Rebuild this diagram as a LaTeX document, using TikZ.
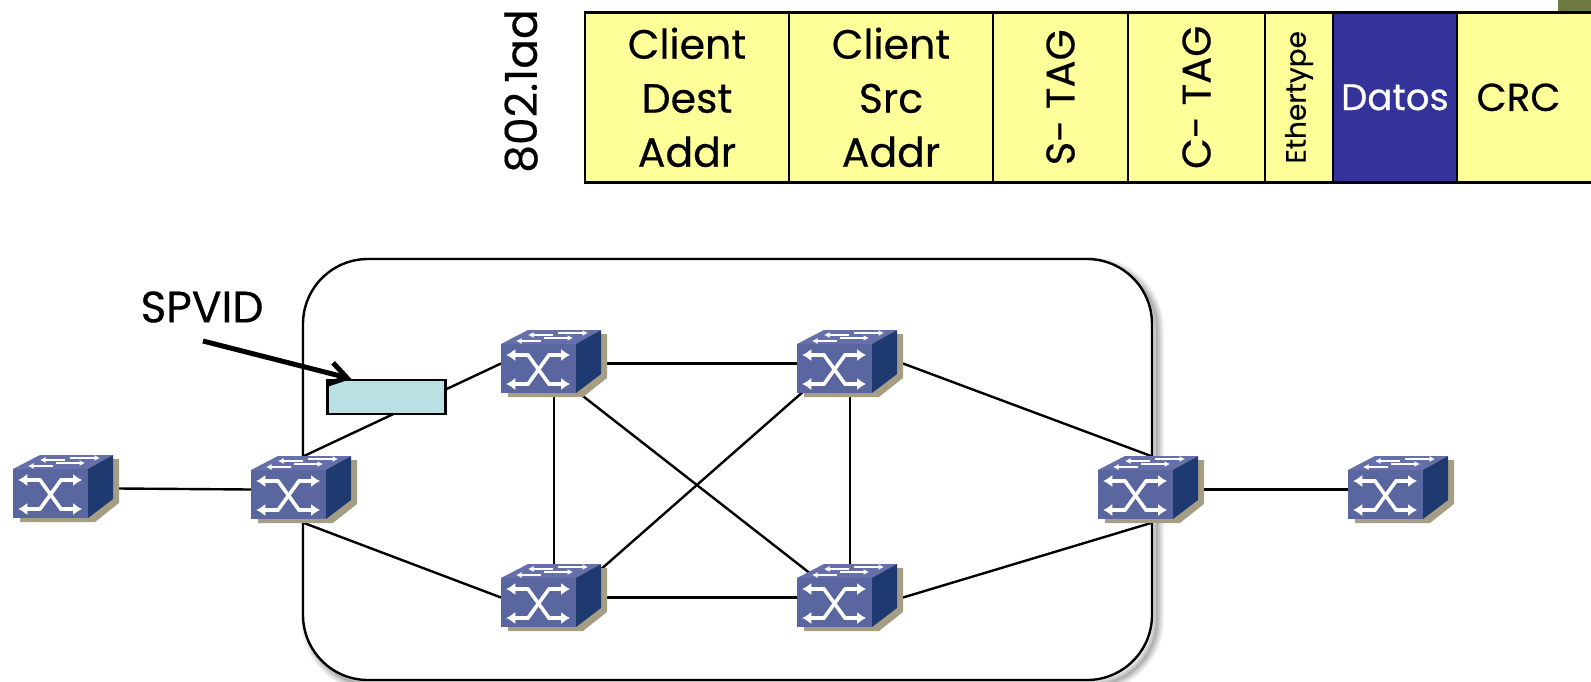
\documentclass[tikz,border=0pt]{standalone}
\usepackage{fontspec}
\setmainfont{Poppins}[FakeBold=0.4]
\usetikzlibrary{arrows.meta}
\definecolor{cellyellow}{HTML}{FFFF99}
\definecolor{cellblue}{HTML}{333399}
\definecolor{tagblue}{HTML}{B9E0E3}
\definecolor{cornergreen}{HTML}{6E7B45}
\definecolor{swfront}{HTML}{5A66A0}
\definecolor{swtop}{HTML}{6570AA}
\definecolor{swside}{HTML}{1F3A70}
\definecolor{swshadow}{HTML}{A59E84}
\tikzset{
  x=1pt,y=-1pt,
  link/.style={line width=2.4pt,black},
  cell/.style={draw=black,line width=2.4pt,fill=cellyellow,inner sep=0pt,align=center,text=black},
  bigtext/.style={font=\fontsize{41}{54}\selectfont},
  switchbox/.style={minimum width=106pt,minimum height=67pt,inner sep=0pt,outer sep=0pt},
  bigarrow/.style={white,line width=3.6pt,{Latex[length=9pt,width=12.5pt]}-{Latex[length=9pt,width=12.5pt]}},
  smallarrow/.style={white,line width=1.8pt,-{Latex[length=5.5pt,width=6pt]}},
  swart/.pic={
    \begin{scope}[shift={(-53,-19.5)}]
      \fill[swshadow] (7,40) -- (7,53) -- (82,53) -- (106,34) -- (106,-10) -- (90,-10) -- cycle;
      \fill[swfront] (0,0) rectangle (75,49);
      \fill[swtop] (0,0) -- (27,-14) -- (100,-14) -- (75,0) -- cycle;
      \fill[swside] (75,0) -- (100,-14) -- (100,30) -- (75,49) -- cycle;
      \draw[bigarrow] (5.3,11) -- (27,11) -- (48,40) -- (69,40);
      \draw[bigarrow] (5.3,40) -- (27,40) -- (48,11) -- (69,11);
      \draw[smallarrow] (52,-9) -- (27,-9);
      \draw[smallarrow] (57,-11) -- (87,-11);
      \draw[smallarrow] (40,-3) -- (15,-3);
      \draw[smallarrow] (43,-6) -- (72,-6);
    \end{scope}
  }
}
\begin{document}
\begin{tikzpicture}
\path[use as bounding box] (0,0) rectangle (1591,681);
\begin{scope}
\clip (0,0) rectangle (1591,681);
\fill[cornergreen] (1558,0) rectangle (1591,11);
\node[cell,bigtext,minimum width=204pt,minimum height=170pt] (dest) at (687,97.3) {Client\\Dest\\Addr};
\node[cell,bigtext,minimum width=204pt,minimum height=170pt] (src) at (891,97.3) {Client\\Src\\Addr};
\node[cell,font=\fontsize{40}{54}\selectfont,rotate=90,minimum width=170pt,minimum height=135pt] (stag) at (1060.5,97.3) {S- TAG};
\node[cell,font=\fontsize{40}{54}\selectfont,rotate=90,minimum width=170pt,minimum height=137pt] (ctag) at (1196.5,97.3) {C- TAG};
\node[cell,rotate=90,font=\fontsize{28}{32}\selectfont,minimum width=170pt,minimum height=68pt] (ether) at (1299,97.3) {Ethertype};
\node[cell,fill=cellblue,text=white,font=\fontsize{37}{44}\selectfont,minimum width=124pt,minimum height=170pt] (datos) at (1395,97.3) {Datos};
\node[cell,font=\fontsize{39}{44}\selectfont,minimum width=150pt,minimum height=170pt] (crc) at (1532,97.3) {\hspace*{-27pt}CRC};
\node[rotate=90,font=\fontsize{44}{50}\selectfont,inner sep=0pt] (proto) at (521,91) {802.1ad};

\foreach \w/\o in {14/.05,11/.06,8/.07,5/.08,2/.09}
  \draw[black,opacity=\o,line width=\w pt,rounded corners=65pt] (308,264) rectangle (1157,685);
\end{scope}

\node[draw=black,fill=white,line width=2.4pt,rounded corners=65pt,minimum width=849pt,minimum height=421pt,inner sep=0pt] (cloud) at (727.5,469.5) {};

\node[switchbox] (s1) at (66,488.5) {};
\node[switchbox] (s2) at (304,489.5) {};
\node[switchbox] (a) at (554,363.5) {};
\node[switchbox] (b) at (850,363.5) {};
\node[switchbox] (c) at (554,597.5) {};
\node[switchbox] (d) at (850,597.5) {};
\node[switchbox] (e) at (1151,489.5) {};
\node[switchbox] (s8) at (1401,489.5) {};

\draw[link] (s1.east) -- (s2.west);
\draw[link] (s2.north) -- (a.west);
\draw[link] (s2.south) -- (c.west);
\draw[link] (a.east) -- (b.west);
\draw[link] (a.south) -- (c.north);
\draw[link] (b.south) -- (d.north);
\draw[link] ([yshift=-10pt]a.center) -- ([yshift=-7pt]d.center);
\draw[link] ([yshift=13pt]b.center) -- ([yshift=-13pt]c.center);
\draw[link] (c.east) -- (d.west);
\draw[link] (b.east) -- (e.north);
\draw[link] (d.east) -- (e.south);
\draw[link] (e.east) -- (s8.west);

\foreach \n in {s1,s2,a,b,c,d,e,s8} \pic at (\n.center) {swart};

\node[draw=black,line width=2.4pt,fill=tagblue,minimum width=118pt,minimum height=34pt,inner sep=0pt] (tag) at (386.5,397) {};
\node[font=\fontsize{44}{50}\selectfont,inner sep=0pt] (spvid) at (202,307) {SPVID};
\coordinate (tailpt) at (203,341);
\draw[line width=5pt,-{Straight Barb[length=17pt,width=22pt]}] (tailpt) -- ([xshift=25pt]tag.north west);
\end{tikzpicture}
\end{document}
